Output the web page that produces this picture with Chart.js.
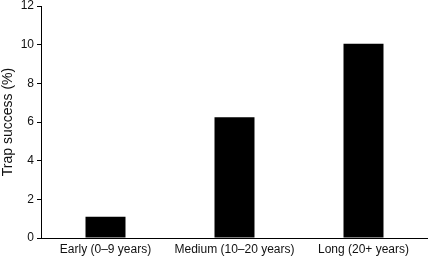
<!DOCTYPE html>
<html>
<head>
<meta charset="utf-8">
<script src="https://cdn.jsdelivr.net/npm/chart.js@4"></script>
<style>
  html, body { margin: 0; padding: 0; background: #fff; }
  #wrap { width: 428px; height: 259px; }
</style>
</head>
<body>
<div id="wrap"><canvas id="chart" width="428" height="259"></canvas></div>
<script>
const categories = ['Early (0–9 years)', 'Medium (10–20 years)', 'Long (20+ years)'];
const trapSuccess = [1.1, 6.25, 10.05];
const yTicks = [0, 2, 4, 6, 8, 10, 12];

const font = { family: '"Liberation Sans", Arial, sans-serif', size: 12 };

const ctx = document.getElementById('chart').getContext('2d');
new Chart(ctx, {
  type: 'bar',
  data: {
    labels: categories,
    datasets: [{
      label: 'Trap success (%)',
      data: trapSuccess,
      backgroundColor: '#000',
      borderWidth: 0,
      barPercentage: 0.31,
      categoryPercentage: 1.0,
    }],
  },
  options: {
    responsive: false,
    animation: false,
    layout: { padding: { top: 6, right: 0, left: 0, bottom: 0 } },
    plugins: {
      legend: { display: false },
      tooltip: { enabled: false },
    },
    scales: {
      x: {
        afterFit: axis => { axis.height = 21; axis.paddingLeft = 0; axis.paddingRight = 0; },
        grid: { drawOnChartArea: false, drawTicks: false },
        border: { display: true, color: '#000', width: 1 },
        ticks: { color: '#111', font, padding: 4, maxRotation: 0, autoSkip: false },
      },
      y: {
        min: 0,
        max: 12,
        afterBuildTicks: axis => { axis.ticks = yTicks.map(v => ({ value: v })); },
        afterFit: axis => { axis.width = 41; axis.paddingTop = 0; axis.paddingBottom = 0; },
        grid: { drawOnChartArea: false, drawTicks: true, tickLength: 4, color: '#000' },
        border: { display: true, color: '#000', width: 1 },
        ticks: { color: '#111', font, padding: 3 },
        title: {
          display: true,
          text: 'Trap success (%)',
          color: '#111',
          font: { family: font.family, size: 14 },
          padding: 0,
        },
      },
    },
  },
});
</script>
</body>
</html>
